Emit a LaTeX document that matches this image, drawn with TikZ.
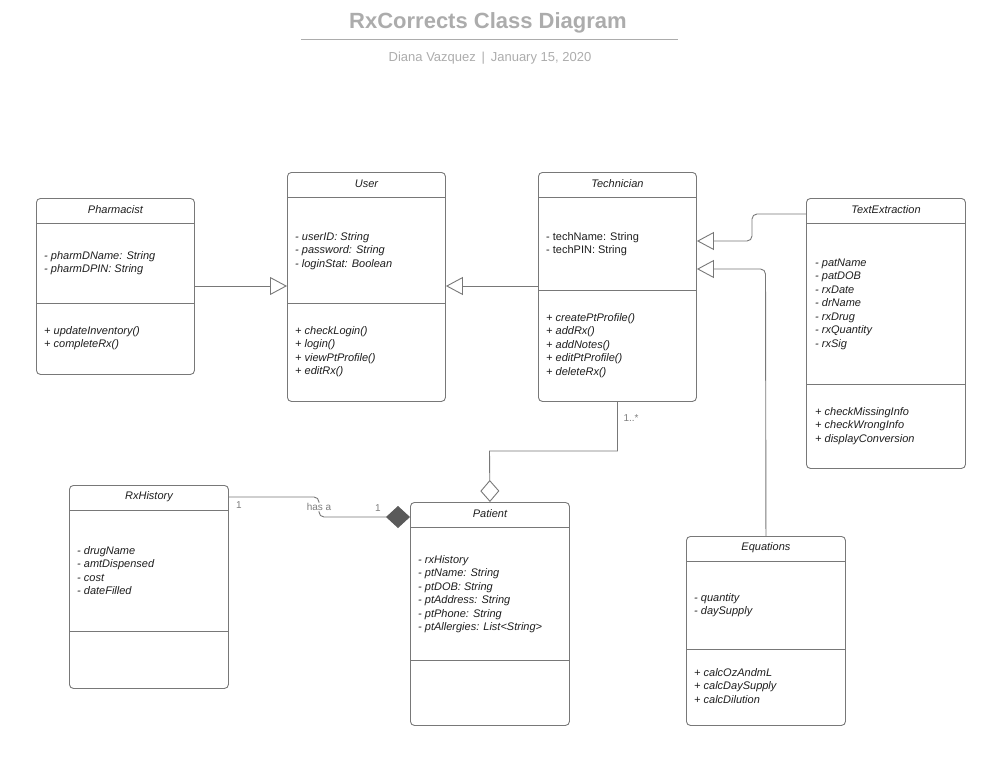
\documentclass[tikz,border=0pt]{standalone}
\usepackage{fontspec}
\setmainfont{Liberation Sans}
\usetikzlibrary{arrows.meta}
\definecolor{edge}{RGB}{120,120,120}
\definecolor{txt}{RGB}{30,30,30}
\definecolor{ttl}{RGB}{172,172,172}
\definecolor{lbl}{RGB}{125,125,125}
\definecolor{dfill}{RGB}{90,90,90}
\tikzset{
 cls/.style={draw=edge, line width=0.9pt, rounded corners=4pt, anchor=north west, inner sep=0pt, fill=white},
 sepline/.style={draw=edge, line width=0.9pt},
 ctitle/.style={font=\fontsize{11}{13}\selectfont\itshape, text=txt, inner sep=0pt},
 members/.style={font=\fontsize{11}{13.5}\selectfont\itshape, text=txt, align=left, anchor=north west, inner sep=0pt},
 plainmembers/.style={members, font=\fontsize{11}{13.5}\selectfont},
 conn/.style={draw=edge, line width=0.9pt},
 gen/.style={-{Triangle[open, length=17pt, width=18pt, fill=white]}},
 mult/.style={font=\fontsize{10}{12}\selectfont, text=lbl, inner sep=1pt},
}
\begin{document}
\begin{tikzpicture}[x=1pt,y=-1pt]
\useasboundingbox (0,0) rectangle (1003,757);
% title
\node[font=\fontsize{22}{26}\selectfont\bfseries, text=ttl] (title) at (488,23) {RxCorrects Class Diagram};
\draw[ttl, line width=1pt] (301,40) -- (678,40);
\node[font=\fontsize{13}{15}\selectfont, text=ttl] (subtitle) at (490,58.5) {Diana Vazquez \,|\, January 15, 2020};

% classes
\node[cls, minimum width=158pt, minimum height=176pt] (pharm) at (36,198) {};
\node[cls, minimum width=158pt, minimum height=229pt] (user) at (287,172) {};
\node[cls, minimum width=158pt, minimum height=229pt] (tech) at (538,172) {};
\node[cls, minimum width=159pt, minimum height=270pt] (textx) at (806,198) {};
\node[cls, minimum width=159pt, minimum height=203pt] (rxh) at (69,485) {};
\node[cls, minimum width=159pt, minimum height=223pt] (patient) at (410,502) {};
\node[cls, minimum width=159pt, minimum height=189pt] (eq) at (686,536) {};

% header lines
\foreach \n in {pharm,user,tech,textx,rxh,patient,eq}{
  \draw[sepline] ([yshift=-25pt]\n.north west) -- ([yshift=-25pt]\n.north east);
}
% separators
\draw[sepline] ([yshift=-105pt]pharm.north west) -- ([yshift=-105pt]pharm.north east);
\draw[sepline] ([yshift=-131pt]user.north west) -- ([yshift=-131pt]user.north east);
\draw[sepline] ([yshift=-118pt]tech.north west) -- ([yshift=-118pt]tech.north east);
\draw[sepline] ([yshift=-186pt]textx.north west) -- ([yshift=-186pt]textx.north east);
\draw[sepline] ([yshift=-146pt]rxh.north west) -- ([yshift=-146pt]rxh.north east);
\draw[sepline] ([yshift=-158pt]patient.north west) -- ([yshift=-158pt]patient.north east);
\draw[sepline] ([yshift=-113pt]eq.north west) -- ([yshift=-113pt]eq.north east);

% titles
\node[ctitle] (pharmT) at ([yshift=-12pt]pharm.north) {Pharmacist};
\node[ctitle] (userT) at ([yshift=-12pt]user.north) {User};
\node[ctitle] (techT) at ([yshift=-12pt]tech.north) {Technician};
\node[ctitle] (textxT) at ([yshift=-12pt]textx.north) {TextExtraction};
\node[ctitle] (rxhT) at ([yshift=-12pt]rxh.north) {RxHistory};
\node[ctitle] (patientT) at ([yshift=-12pt]patient.north) {Patient};
\node[ctitle] (eqT) at ([yshift=-12pt]eq.north) {Equations};

% members
\node[members] (pharmA) at (44,249.5) {\strut- pharmDName: String\\- pharmDPIN: String};
\node[members] (pharmM) at (44,324.5) {\strut+ updateInventory()\\+ completeRx()};
\node[members] (userA) at (295,230.5) {\strut- userID: String\\- password: String\\- loginStat: Boolean};
\node[members] (userM) at (295,324.5) {\strut+ checkLogin()\\+ login()\\+ viewPtProfile()\\+ editRx()};
\node[plainmembers] (techA) at (546,230.5) {\strut- techName: String\\- techPIN: String};
\node[members] (techM) at (546,311.5) {\strut+ createPtProfile()\\+ addRx()\\+ addNotes()\\+ editPtProfile()\\+ deleteRx()};
\node[members] (textxA) at (815,256.5) {\strut- patName\\- patDOB\\- rxDate\\- drName\\- rxDrug\\- rxQuantity\\- rxSig};
\node[members] (textxM) at (815,405.5) {\strut+ checkMissingInfo\\+ checkWrongInfo\\+ displayConversion};
\node[members] (rxhA) at (77,544.5) {\strut- drugName\\- amtDispensed\\- cost\\- dateFilled};
\node[members] (patientA) at (418,553.5) {\strut- rxHistory\\- ptName: String\\- ptDOB: String\\- ptAddress: String\\- ptPhone: String\\- ptAllergies: List<String>};
\node[members] (eqA) at (694,591.5) {\strut- quantity\\- daySupply};
\node[members] (eqM) at (694,666.5) {\strut+ calcOzAndmL\\+ calcDaySupply\\+ calcDilution};

% connectors
\draw[conn, gen] ([yshift=-88pt]pharm.north east) -- ([yshift=-114pt]user.north west);
\draw[conn, gen] ([yshift=-114pt]tech.north west) -- ([yshift=-114pt]user.north east);
\draw[conn, gen, rounded corners=5pt] ([yshift=-16pt]textx.north west) -- (752,214) -- (752,241) -- ([yshift=-69pt]tech.north east);
\draw[conn, gen, rounded corners=5pt] (eq.north) -- (765.5,269) -- ([yshift=-97pt]tech.north east);
\draw[conn, {Diamond[open, length=22pt, width=19pt, fill=white]}-] (patient.north) -- (489.5,451) -| (tech.south);
\draw[conn, {Diamond[length=24pt, width=22pt, fill=dfill, color=dfill]}-, rounded corners=5pt] ([yshift=-15pt]patient.north west) -- (319,517) -- (319,497) -- ([yshift=-12pt]rxh.north east);

% labels
\node[mult] (m1) at (631,418) {1..*};
\node[mult] (m2) at (239,505) {1};
\node[mult] (m3) at (378,508) {1};
\node[mult, fill=white, inner sep=0.5pt] (hasa) at (319,507) {has a};
\end{tikzpicture}
\end{document}
